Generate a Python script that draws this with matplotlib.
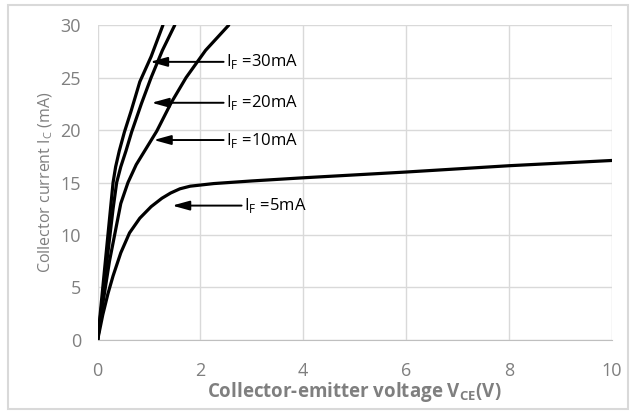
import matplotlib.pyplot as plt
from matplotlib.patches import FancyBboxPatch

# Collector current vs collector-emitter voltage
vce_30 = [0, 0.05, 0.1, 0.15, 0.2, 0.25, 0.3, 0.35, 0.42, 0.52, 0.65, 0.82, 1.04, 1.27]
ic_30 = [0, 2.5, 5, 7.5, 10, 12.5, 15, 16.5, 18, 19.8, 21.8, 24.6, 27.0, 30]

vce_20 = [0, 0.06, 0.12, 0.18, 0.24, 0.3, 0.37, 0.45, 0.55, 0.66, 0.85, 1.04, 1.26, 1.5]
ic_20 = [0, 2.5, 5, 7.5, 10, 12.5, 15, 16.5, 18, 19.8, 22.5, 25, 27.6, 30]

vce_10 = [0, 0.07, 0.15, 0.23, 0.33, 0.45, 0.59, 0.75, 0.95, 1.15, 1.43, 1.72, 2.1, 2.55]
ic_10 = [0, 2.5, 5, 7.5, 10, 13.0, 15, 16.7, 18.3, 19.9, 22.6, 25, 27.6, 30]

vce_5 = [0, 0.1, 0.2, 0.3, 0.45, 0.62, 0.82, 1.04, 1.25, 1.42, 1.6, 1.8, 2.26, 3, 4, 6, 8, 10]
ic_5 = [0, 2.4, 4.4, 6.1, 8.3, 10.2, 11.6, 12.7, 13.5, 14.0, 14.4, 14.65, 14.9, 15.15, 15.45, 16.0, 16.6, 17.1]

# label text, arrow tip (x, y), arrow tail x
labels = ['30mA', '20mA', '10mA', '5mA']
tip_x = [1.02, 1.05, 1.09, 1.45]
tip_y = [26.5, 22.6, 19.05, 12.8]
tail_x = [2.45, 2.45, 2.45, 2.8]

grey = '#7f7f7f'
plt.rcParams['font.family'] = ['Open Sans', 'DejaVu Sans']

fig = plt.figure(figsize=(6.3, 4.12), dpi=100)
ax = fig.add_axes([0.155, 0.175, 0.816, 0.764])

for x, y in [(vce_30, ic_30), (vce_20, ic_20), (vce_10, ic_10), (vce_5, ic_5)]:
    ax.plot(x, y, color='black', lw=2.3, solid_capstyle='round', solid_joinstyle='round', zorder=3)

for lab, tx, ty, sx in zip(labels, tip_x, tip_y, tail_x):
    ax.annotate('', xy=(tx, ty), xytext=(sx, ty),
                arrowprops=dict(arrowstyle='-|>,head_length=0.8,head_width=0.22',
                                color='black', lw=1.4,
                                mutation_scale=13, shrinkA=0, shrinkB=0),
                zorder=4)
    ax.text(sx + 0.04, ty, r'I$_\mathregular{F}$ =' + lab, fontsize=12,
            va='center', ha='left', color='black', zorder=4)

ax.set_xlim(0, 10)
ax.set_ylim(0, 30)
ax.set_xticks([0, 2, 4, 6, 8, 10])
ax.set_yticks([0, 5, 10, 15, 20, 25, 30])
ax.grid(True, color='#d9d9d9', lw=1.0)
ax.set_axisbelow(True)
for s in ['top', 'right', 'left']:
    ax.spines[s].set_visible(False)
ax.spines['bottom'].set_color('#bfbfbf')
ax.tick_params(length=0, labelsize=13, colors=grey, pad=16)
ax.tick_params(axis='y', pad=12)

ax.set_xlabel(r'Collector-emitter voltage V$_\mathregular{CE}$(V)', fontsize=13.5,
              fontweight='bold', color=grey, labelpad=0)
ax.set_ylabel(r'Collector current I$_\mathregular{C}$ (mA)', fontsize=11.5,
              color=grey, labelpad=4)

# light frame around the whole chart
fig.patches.append(FancyBboxPatch((0.012, 0.008), 0.985, 0.98,
                                  boxstyle='square,pad=0', transform=fig.transFigure,
                                  fill=False, edgecolor='#d9d9d9', lw=1.5))

plt.savefig('out.png', dpi=100)
